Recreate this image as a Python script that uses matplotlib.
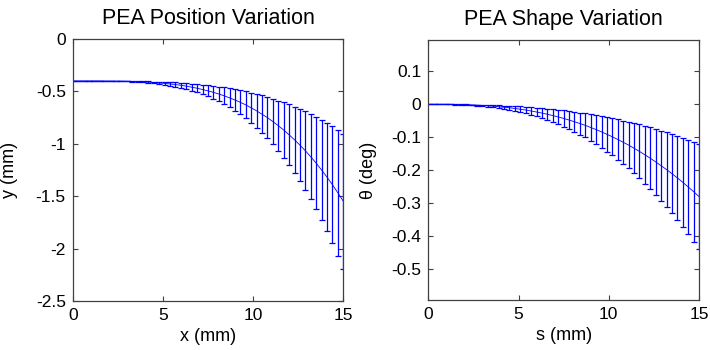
import numpy as np
import matplotlib
matplotlib.use("Agg")
from matplotlib import pyplot as plt

plt.rcParams['font.family'] = ['Liberation Sans', 'DejaVu Sans']

# positions along the PEA (mm), 51 samples from 0 to 15
x_mm = [0.0, 0.3, 0.6, 0.9, 1.2, 1.5, 1.8, 2.1, 2.4, 2.7,
        3.0, 3.3, 3.6, 3.9, 4.2, 4.5, 4.8, 5.1, 5.4, 5.7,
        6.0, 6.3, 6.6, 6.9, 7.2, 7.5, 7.8, 8.1, 8.4, 8.7,
        9.0, 9.3, 9.6, 9.9, 10.2, 10.5, 10.8, 11.1, 11.4, 11.7,
        12.0, 12.3, 12.6, 12.9, 13.2, 13.5, 13.8, 14.1, 14.4, 14.7, 15.0]

# left panel: mean y position and its spread
y_mean = [-0.400, -0.400, -0.400, -0.400, -0.400, -0.400, -0.401, -0.401, -0.402, -0.402,
          -0.403, -0.405, -0.407, -0.409, -0.412, -0.415, -0.419, -0.424, -0.429, -0.435,
          -0.442, -0.450, -0.460, -0.470, -0.482, -0.495, -0.509, -0.525, -0.542, -0.562,
          -0.582, -0.605, -0.629, -0.657, -0.686, -0.718, -0.751, -0.788, -0.827, -0.869,
          -0.914, -0.962, -1.013, -1.066, -1.124, -1.185, -1.250, -1.318, -1.390, -1.467, -1.547]
y_err = [0.000, 0.000, 0.000, 0.000, 0.000, 0.000, 0.000, 0.001, 0.001, 0.001,
         0.002, 0.003, 0.004, 0.005, 0.007, 0.008, 0.011, 0.013, 0.016, 0.020,
         0.024, 0.028, 0.034, 0.039, 0.046, 0.053, 0.061, 0.070, 0.080, 0.091,
         0.103, 0.115, 0.129, 0.144, 0.161, 0.179, 0.197, 0.218, 0.240, 0.264,
         0.289, 0.316, 0.344, 0.375, 0.407, 0.441, 0.478, 0.516, 0.557, 0.600, 0.645]

# right panel: mean angle and its spread
th_mean = [0.0, -0.0000, -0.0000, -0.0001, -0.0003, -0.0006, -0.0009, -0.0014, -0.0020, -0.0027,
           -0.0036, -0.0047, -0.0059, -0.0074, -0.0090, -0.0108, -0.0129, -0.0152, -0.0177, -0.0205,
           -0.0236, -0.0269, -0.0305, -0.0344, -0.0386, -0.0431, -0.0479, -0.0532, -0.0585, -0.0641,
           -0.0706, -0.0770, -0.0840, -0.0913, -0.0988, -0.1070, -0.1154, -0.1240, -0.1336, -0.1431,
           -0.1534, -0.1638, -0.1750, -0.1865, -0.1982, -0.2106, -0.2234, -0.2369, -0.2509, -0.2652, -0.2800]
th_err = [0.0, 0.0000, 0.0000, 0.0001, 0.0002, 0.0003, 0.0005, 0.0008, 0.0011, 0.0016,
          0.0021, 0.0027, 0.0034, 0.0042, 0.0051, 0.0062, 0.0074, 0.0087, 0.0101, 0.0117,
          0.0135, 0.0154, 0.0174, 0.0197, 0.0221, 0.0246, 0.0274, 0.0304, 0.0334, 0.0366,
          0.0403, 0.0440, 0.0480, 0.0522, 0.0565, 0.0611, 0.0659, 0.0709, 0.0763, 0.0818,
          0.0877, 0.0936, 0.1000, 0.1066, 0.1133, 0.1203, 0.1277, 0.1354, 0.1434, 0.1515, 0.1600]

tick_font = 12.5
label_font = 13
title_font = 15.5

fig = plt.figure(figsize=(7.1, 3.5), dpi=100)
ax1 = fig.add_axes([0.1024, 0.14, 0.381, 0.7486])
ax2 = fig.add_axes([0.6032, 0.1429, 0.3813, 0.7429])

for ax in (ax1, ax2):
    ax.tick_params(direction='in', top=True, right=True, length=3.5, width=0.8,
                   labelsize=tick_font, pad=5, color='#404040')
    for sp in ax.spines.values():
        sp.set_color('#404040')
        sp.set_linewidth(0.9)

ax1.errorbar(x_mm, y_mean, yerr=y_err, color='b', lw=0.6, elinewidth=0.9, capsize=2.5, capthick=0.9)
ax1.set_xlim(0, 15)
ax1.set_ylim(-2.5, 0)
ax1.set_xticks([0, 5, 10, 15])
ax1.set_yticks([-2.5, -2, -1.5, -1, -0.5, 0])
ax1.set_yticklabels(['-2.5', '-2', '-1.5', '-1', '-0.5', '0'])
ax1.set_title('PEA Position Variation', fontsize=title_font, pad=11)
ax1.set_xlabel('x (mm)', fontsize=label_font, labelpad=3.5)
ax1.set_ylabel('y (mm)', fontsize=label_font)
ax1.yaxis.set_label_coords(-0.203, 0.5)

ax2.errorbar(x_mm, th_mean, yerr=th_err, color='b', lw=0.6, elinewidth=0.9, capsize=2.5, capthick=0.9)
ax2.set_xlim(0, 15)
ax2.set_ylim(-0.594, 0.195)
ax2.set_xticks([0, 5, 10, 15])
ax2.set_yticks([-0.5, -0.4, -0.3, -0.2, -0.1, 0, 0.1])
ax2.set_yticklabels(['-0.5', '-0.4', '-0.3', '-0.2', '-0.1', '0', '0.1'])
ax2.set_title('PEA Shape Variation', fontsize=title_font, pad=11)
ax2.set_xlabel('s (mm)', fontsize=label_font, labelpad=3.5)
ax2.set_ylabel('θ (deg)', fontsize=label_font)
ax2.yaxis.set_label_coords(-0.188, 0.5)

fig.savefig('out.png', dpi=100)
